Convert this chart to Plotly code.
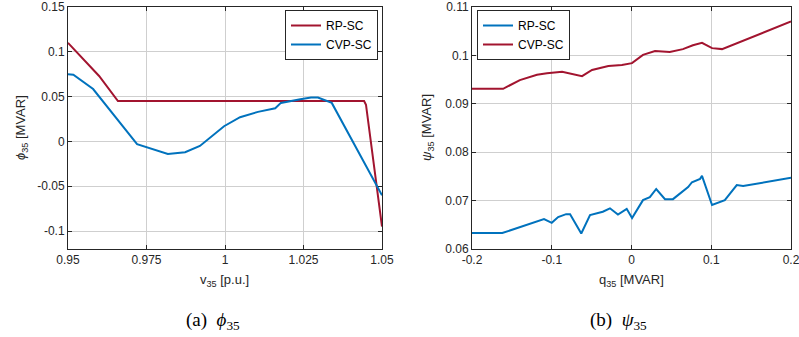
import plotly.graph_objects as go

# ---------------- data: (a) phi_35 vs v_35 ----------------
v_rp = [0.95, 0.9599, 0.9659, 1.0443, 1.0449, 1.05]
phi_rp = [0.110, 0.073, 0.045, 0.045, 0.041, -0.095]

v_cvp = [0.95, 0.9517, 0.958, 0.972, 0.9818, 0.9873, 0.992, 0.9997, 1.0048,
         1.0105, 1.016, 1.0178, 1.024, 1.0274, 1.0296, 1.034, 1.05]
phi_cvp = [0.075, 0.0745, 0.0585, -0.003, -0.014, -0.012, -0.005, 0.017, 0.027,
           0.033, 0.037, 0.043, 0.047, 0.049, 0.049, 0.043, -0.060]

# ---------------- data: (b) psi_35 vs q_35 ----------------
q_rp = [-0.2, -0.162, -0.1097, -0.1, -0.092, -0.082, -0.077, -0.063, -0.052,
        -0.036, -0.027, -0.017, -0.006, 0.0007, 0.0144, 0.023, 0.031, 0.042,
        0.052, 0.063, 0.071, 0.0758, 0.086, 0.0884, 0.101, 0.117, 0.132, 0.140, 0.2]
psi_rp = [0.0633, 0.0633, 0.0662, 0.0654, 0.0666, 0.0672, 0.0672, 0.0632, 0.0670,
          0.0677, 0.0684, 0.0671, 0.0683, 0.0664, 0.0701, 0.0707, 0.0724, 0.0703,
          0.0703, 0.0718, 0.0728, 0.0738, 0.0745, 0.0751, 0.0691, 0.0701, 0.0732, 0.0730, 0.0747]

q_cvp = [-0.2, -0.161, -0.14, -0.1185, -0.106, -0.087, -0.062, -0.0495, -0.029,
         -0.012, 0.0006, 0.0144, 0.0295, 0.048, 0.0645, 0.077, 0.0884, 0.101, 0.1135, 0.2]
psi_cvp = [0.0931, 0.0931, 0.0949, 0.0960, 0.0963, 0.0966, 0.0957, 0.0970, 0.0978,
           0.0980, 0.0984, 0.1001, 0.1009, 0.1007, 0.1013, 0.1021, 0.1026, 0.1015, 0.1013, 0.1070]

# tick labels
xa_ticks = [0.95, 0.975, 1.0, 1.025, 1.05]
xa_text = ["0.95", "0.975", "1", "1.025", "1.05"]
ya_ticks = [-0.1, -0.05, 0, 0.05, 0.1, 0.15]
ya_text = ["-0.1", "-0.05", "0", "0.05", "0.1", "0.15"]
xb_ticks = [-0.2, -0.1, 0, 0.1, 0.2]
xb_text = ["-0.2", "-0.1", "0", "0.1", "0.2"]
yb_ticks = [0.06, 0.07, 0.08, 0.09, 0.10, 0.11]
yb_text = ["0.06", "0.07", "0.08", "0.09", "0.1", "0.11"]

RED = "#A2142F"
BLUE = "#0072BD"
W, H = 799, 337
AX = "#262626"
FONT = "Liberation Sans, Arial, sans-serif"
SERIF = "Liberation Serif, Times New Roman, serif"

def px(x):
    return x / W

def py(y):
    return 1 - y / H

fig = go.Figure()
fig.add_trace(go.Scatter(x=v_rp, y=phi_rp, mode="lines", name="RP-SC",
                         line=dict(color=RED, width=2), xaxis="x", yaxis="y", legend="legend"))
fig.add_trace(go.Scatter(x=v_cvp, y=phi_cvp, mode="lines", name="CVP-SC",
                         line=dict(color=BLUE, width=2), xaxis="x", yaxis="y", legend="legend"))
fig.add_trace(go.Scatter(x=q_rp, y=psi_rp, mode="lines", name="RP-SC",
                         line=dict(color=BLUE, width=2), xaxis="x2", yaxis="y2", legend="legend2"))
fig.add_trace(go.Scatter(x=q_cvp, y=psi_cvp, mode="lines", name="CVP-SC",
                         line=dict(color=RED, width=2), xaxis="x2", yaxis="y2", legend="legend2"))

common = dict(showline=True, mirror="ticks", linecolor=AX, linewidth=1,
              ticks="inside", ticklen=4, tickcolor=AX, showgrid=True,
              gridcolor="#cfcfcf", gridwidth=1, zeroline=False, automargin=False,
              ticklabeloverflow="allow",
              tickfont=dict(family=FONT, size=12, color=AX))

ydom = [py(249), py(7)]
fig.update_layout(
    width=W, height=H, margin=dict(l=0, r=0, t=0, b=0, autoexpand=False),
    paper_bgcolor="white", plot_bgcolor="white", showlegend=True,
    xaxis=dict(domain=[px(68), px(382)], range=[0.95, 1.05], tickvals=xa_ticks,
               ticktext=xa_text, anchor="y", **common),
    yaxis=dict(domain=ydom, range=[-0.12, 0.15], tickvals=ya_ticks,
               ticktext=ya_text, anchor="x", **common),
    xaxis2=dict(domain=[px(472), px(791)], range=[-0.2, 0.2], tickvals=xb_ticks,
                ticktext=xb_text, anchor="y2", **common),
    yaxis2=dict(domain=ydom, range=[0.06, 0.11], tickvals=yb_ticks,
                ticktext=yb_text, anchor="x2", **common),
    legend=dict(x=px(378), y=py(10), xanchor="right", yanchor="top",
                bgcolor="white", bordercolor=AX, borderwidth=1,
                font=dict(family=FONT, size=12, color="black"),
                itemwidth=30, tracegroupgap=0),
    legend2=dict(x=px(477), y=py(10), xanchor="left", yanchor="top",
                 bgcolor="white", bordercolor=AX, borderwidth=1,
                 font=dict(family=FONT, size=12, color="black"),
                 itemwidth=30, tracegroupgap=0),
)

ann = [
    dict(x=px(225), y=py(280), text="v<sub>35</sub> [p.u.]", font=dict(family=FONT, size=13, color=AX)),
    dict(x=px(631), y=py(280), text="q<sub>35</sub> [MVAR]", font=dict(family=FONT, size=13, color=AX)),
    dict(x=px(21), y=py(128), text="<i>ϕ</i><sub>35</sub> [MVAR]", textangle=-90,
         font=dict(family=FONT, size=13, color=AX)),
    dict(x=px(427), y=py(128), text="<i>ψ</i><sub>35</sub> [MVAR]", textangle=-90,
         font=dict(family=FONT, size=13, color=AX)),
    dict(x=px(213), y=py(321), text="(a)  <i>ϕ</i><sub>35</sub>", font=dict(family=SERIF, size=19, color="black")),
    dict(x=px(618), y=py(321), text="(b)  <i>ψ</i><sub>35</sub>", font=dict(family=SERIF, size=19, color="black")),
]
for a in ann:
    a.update(xref="paper", yref="paper", showarrow=False, xanchor="center", yanchor="middle")
    fig.add_annotation(**a)

fig.write_html("out.html")
